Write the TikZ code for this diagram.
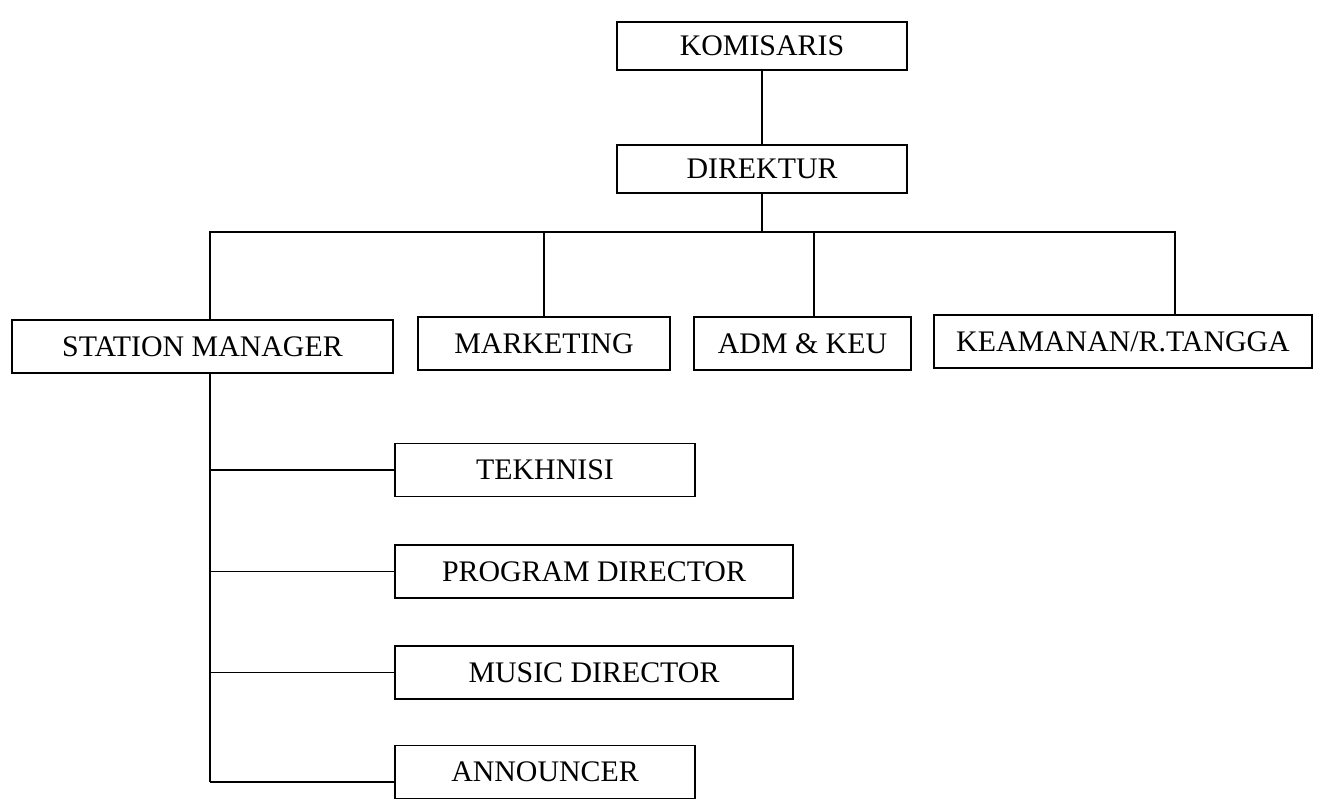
\documentclass[tikz,border=0pt]{standalone}
\usepackage{fontspec}
\setmainfont{Liberation Serif}
\usepackage{tikz}

\tikzset{
  jabatan/.style={draw, line width=1.1pt, inner sep=0pt, minimum height=1.06cm,
    font=\fontsize{17pt}{19pt}\selectfont},
  garis/.style={line width=1.1pt}
}

\begin{document}
\begin{tikzpicture}[x=0.02cm,y=-0.02cm]
        \useasboundingbox (0,0) rectangle (1321,802);
        \node[jabatan,minimum width=5.8cm,minimum height=0.96cm] (kom) at (762,46) {KOMISARIS};
        \node[jabatan,minimum width=5.8cm,minimum height=0.96cm] (dir) at (762,169) {DIREKTUR};
        \node[jabatan,minimum width=7.62cm] (sm) at (202.5,346.5) {STATION MANAGER};
        \node[jabatan,minimum width=5.04cm] (mkt) at (544,343.5) {MARKETING};
        \node[jabatan,minimum width=4.34cm] (adm) at (802.5,343.5) {ADM \& KEU};
        \node[jabatan,minimum width=7.56cm] (kea) at (1123,341.5) {KEAMANAN/R.TANGGA};
        \node[jabatan,minimum width=6cm] (tek) at (545,470) {TEKHNISI};
        \node[jabatan,minimum width=7.96cm] (prg) at (594,571.5) {PROGRAM DIRECTOR};
        \node[jabatan,minimum width=7.96cm] (mus) at (594,672.5) {MUSIC DIRECTOR};
        \node[jabatan,minimum width=6cm] (ann) at (545,772) {ANNOUNCER};
        % garis komando
        \coordinate (bus) at (762,232);
        \coordinate (trunk) at (210,782);
        \draw[garis] (kom) -- (dir);
        \draw[garis] (dir) -- (bus);
        \draw[garis] (sm.north -| trunk) |- ([xshift=1.04cm]kea.north |- bus) -- ([xshift=1.04cm]kea.north);
        \draw[garis] (mkt.north) -- (mkt.north |- bus);
        \draw[garis] ([xshift=0.23cm]adm.north) -- ([xshift=0.23cm]adm.north |- bus);
        \draw[garis] (sm.south -| trunk) -- (trunk);
        \foreach \n in {tek,prg,mus} {
          \draw[garis] (\n.west) -- (\n.west -| trunk);
        }
        \draw[garis] (trunk) -- (trunk -| ann.west);
\end{tikzpicture}
\end{document}
